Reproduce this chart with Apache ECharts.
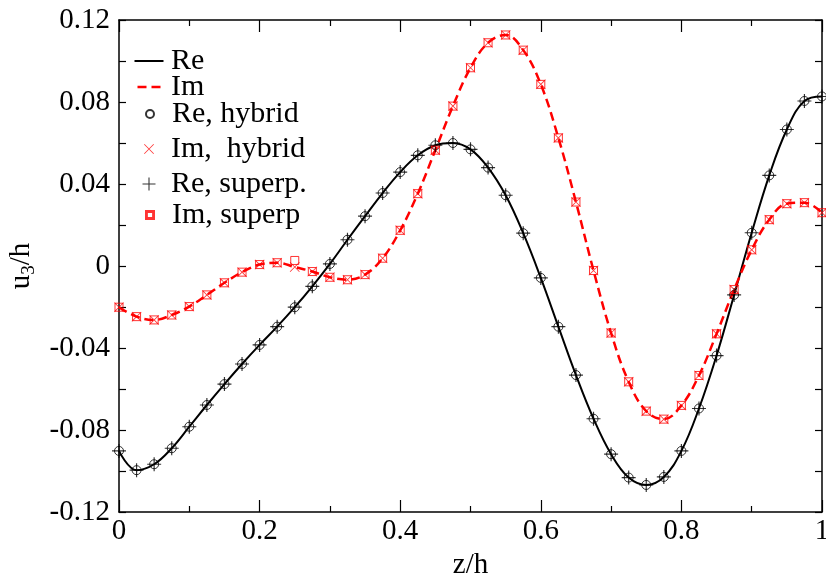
<!DOCTYPE html>
<html>
<head>
<meta charset="utf-8">
<script src="https://cdn.jsdelivr.net/npm/echarts@6/dist/echarts.min.js"></script>
<style>
  html, body { margin: 0; padding: 0; background: #fff; }
  #chart { width: 826px; height: 575px; }
</style>
</head>
<body>
<div id="chart"></div>
<script>
// z/h positions of the samples
var zh = [0, 0.025, 0.05, 0.075, 0.1, 0.125, 0.15, 0.175, 0.2, 0.225,
          0.25, 0.275, 0.3, 0.325, 0.35, 0.375, 0.4, 0.425, 0.45, 0.475,
          0.5, 0.525, 0.55, 0.575, 0.6, 0.625, 0.65, 0.675, 0.7, 0.725,
          0.75, 0.775, 0.8, 0.825, 0.85, 0.875, 0.9, 0.925, 0.95, 0.975, 1];

// real part u3/h
var reVals = [-0.0902, -0.0996, -0.0967, -0.0889, -0.0784, -0.0678, -0.0576, -0.0478, -0.0385, -0.0296,
              -0.0201, -0.0099, 0.0010, 0.0128, 0.0243, 0.0356, 0.0458, 0.0540, 0.0589, 0.0600,
              0.0569, 0.0480, 0.0345, 0.0160, -0.0058, -0.0296, -0.0532, -0.0745, -0.0918, -0.1032,
              -0.1068, -0.1029, -0.0902, -0.0695, -0.0437, -0.0141, 0.0162, 0.0442, 0.0666, 0.0805, 0.0827];

// imaginary part u3/h (hybrid)
var imVals = [-0.0201, -0.0247, -0.0263, -0.0239, -0.0198, -0.0141, -0.0082, -0.0030, 0.0007, 0.0016,
              -0.0005, -0.0027, -0.0055, -0.0067, -0.0042, 0.0038, 0.0174, 0.0353, 0.0565, 0.0780,
              0.0967, 0.1089, 0.1127, 0.1053, 0.0886, 0.0625, 0.0312, -0.0022, -0.0327, -0.0565,
              -0.0708, -0.0747, -0.0680, -0.0534, -0.0331, -0.0115, 0.0079, 0.0226, 0.0304, 0.0309, 0.0260];

// superposition results (same as hybrid except one point)
var reSuperp = reVals.slice();
var imSuperp = imVals.slice();
imSuperp[10] = 0.0027;

var yTicks = [-0.12, -0.08, -0.04, 0, 0.04, 0.08, 0.12];

function pairs(xs, ys) {
    return xs.map(function (x, i) { return [x, ys[i]]; });
}

var FONT = "'Liberation Serif', 'Times New Roman', serif";
var RED = '#ff0000';
var PLUS = 'path://M-0.5,-6 H0.5 V6 H-0.5 Z M-6,-0.5 H6 V0.5 H-6 Z';
var CROSS = 'path://M-6,-5.3 L-5.3,-6 L6,5.3 L5.3,6 Z M5.3,-6 L6,-5.3 L-5.3,6 L-6,5.3 Z';
var SQUARE = 'path://M0,0 H9 V9 H0 Z M1,1 V8 H8 V1 Z';
var SOLID = 'path://M0,0 H29 V2 H0 Z';
var DASHED = 'path://M0,0 H9 V2.5 H0 Z M14,0 H23 V2.5 H14 Z';

var myChart = echarts.init(document.getElementById('chart'));

// one legend block per row so that rows can sit where the original has them
function legendRow(name, center, icon, w, h) {
    var left = 144 - w / 2;
    return {
        left: left,
        top: center - 18,
        data: [{ name: name, icon: icon }],
        itemWidth: w,
        itemHeight: h,
        selectedMode: false,
        textStyle: {
            fontFamily: FONT,
            fontSize: 30,
            lineHeight: 30,
            color: '#000',
            padding: [0, 0, 0, 166 - (left + w + 5)]
        }
    };
}

function xAx(pos, showLabel) {
    return {
        type: 'value',
        position: pos,
        min: 0,
        max: 1,
        interval: 0.2,
        axisLine: { show: true, onZero: false, lineStyle: { color: '#000', width: 1.5 } },
        axisTick: { show: true, inside: true, length: 12, lineStyle: { color: '#000', width: 1.2 } },
        minorTick: { show: true, splitNumber: 2, length: 6, lineStyle: { color: '#000', width: 1.2 } },
        splitLine: { show: false },
        axisLabel: {
            show: showLabel,
            margin: 5,
            fontFamily: FONT,
            fontSize: 29,
            color: '#000',
            showMinLabel: true,
            showMaxLabel: true,
            formatter: function (v) { return String(+v.toFixed(1)); }
        }
    };
}

function yAx(pos, showLabel) {
    return {
        type: 'value',
        position: pos,
        min: -0.12,
        max: 0.12,
        interval: 0.02,
        axisLine: { show: true, onZero: false, lineStyle: { color: '#000', width: 1.5 } },
        axisTick: { show: true, inside: true, length: 7, lineStyle: { color: '#000', width: 1.2 } },
        splitLine: { show: false },
        axisLabel: {
            show: showLabel,
            margin: 9,
            fontFamily: FONT,
            fontSize: 29,
            color: '#000',
            formatter: function (v) {
                var r = +v.toFixed(2);
                return yTicks.indexOf(r) >= 0 ? String(r) : '';
            }
        }
    };
}

var xBottom = xAx('bottom', true);
xBottom.name = 'z/h';
xBottom.nameLocation = 'middle';
xBottom.nameGap = 36;
xBottom.nameTextStyle = { fontFamily: FONT, fontSize: 29, color: '#000' };

var yLeft = yAx('left', true);
yLeft.name = '{a|u}{b|3}{a|/h}';
yLeft.nameLocation = 'middle';
yLeft.nameGap = 75;
yLeft.nameTextStyle = {
    fontFamily: FONT,
    color: '#000',
    rich: {
        a: { fontFamily: FONT, fontSize: 29, lineHeight: 34, color: '#000' },
        b: { fontFamily: FONT, fontSize: 19, lineHeight: 19, verticalAlign: 'bottom', color: '#000' }
    }
};

option = {
    animation: false,
    backgroundColor: '#fff',
    grid: { left: 119, right: 4, top: 20, bottom: 63, outerBoundsMode: 'none', containLabel: false },
    legend: [
        legendRow('Re', 59, SOLID, 29, 2),
        legendRow('Im', 85, DASHED, 23, 2.5),
        legendRow('Re, hybrid', 112, 'circle', 8, 8),
        legendRow('Im,  hybrid', 147, CROSS, 10, 10),
        legendRow('Re, superp.', 182, PLUS, 13, 13),
        legendRow('Im, superp', 213, SQUARE, 8, 8)
    ],
    xAxis: [xBottom, xAx('top', false)],
    yAxis: [yLeft, yAx('right', false)],
    series: [
        {
            name: 'Re',
            type: 'line',
            data: pairs(zh, reVals),
            smooth: 0.4,
            symbol: 'none',
            lineStyle: { color: '#000', width: 2 },
            itemStyle: { color: '#000' },
            z: 2
        },
        {
            name: 'Im',
            type: 'line',
            data: pairs(zh, imVals),
            smooth: 0.4,
            symbol: 'none',
            lineStyle: { color: RED, width: 2.5, type: [9, 5] },
            itemStyle: { color: RED },
            z: 2
        },
        {
            name: 'Re, hybrid',
            type: 'scatter',
            data: pairs(zh, reVals),
            symbol: 'circle',
            symbolSize: 9,
            itemStyle: { color: 'rgba(0,0,0,0)', borderColor: '#000', borderWidth: 1 },
            z: 3
        },
        {
            name: 'Im,  hybrid',
            type: 'scatter',
            data: pairs(zh, imVals),
            symbol: CROSS,
            symbolSize: 10,
            itemStyle: { color: RED },
            z: 3
        },
        {
            name: 'Re, superp.',
            type: 'scatter',
            data: pairs(zh, reSuperp),
            symbol: PLUS,
            symbolSize: 14,
            itemStyle: { color: '#000' },
            z: 3
        },
        {
            name: 'Im, superp',
            type: 'scatter',
            data: pairs(zh, imSuperp),
            symbol: 'rect',
            symbolSize: 8,
            itemStyle: { color: 'rgba(0,0,0,0)', borderColor: RED, borderWidth: 1 },
            z: 3
        }
    ]
};
myChart.setOption(option);
window.addEventListener('resize', function () {
    myChart.resize();
});
</script>
</body>
</html>
